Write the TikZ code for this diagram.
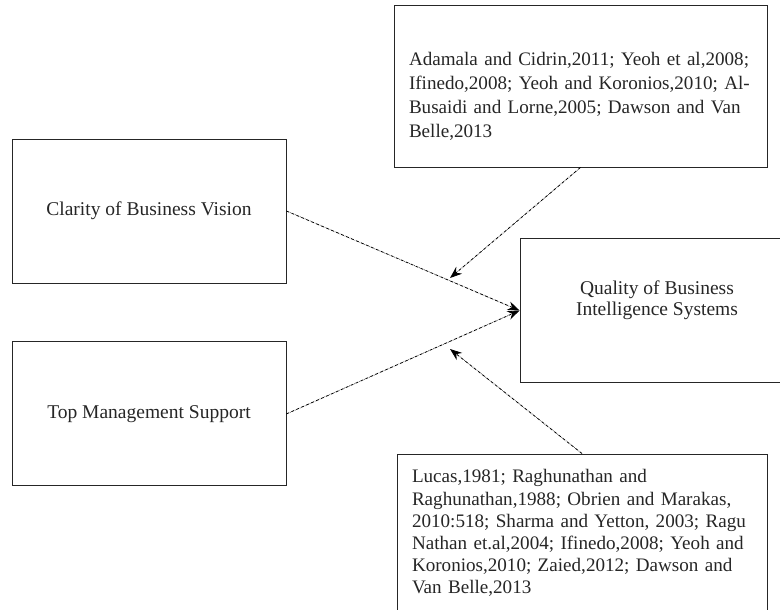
\documentclass[tikz,border=0pt]{standalone}
\usepackage{fontspec}
\setmainfont{Liberation Serif}
\usetikzlibrary{arrows.meta, positioning}

\begin{document}
\begin{tikzpicture}[
    x=1pt, y=-1pt,
    box/.style={rectangle, draw=black!85, line width=0.9pt, text=black!85, font=\fontsize{19.5}{24}\selectfont},
    factor/.style={box, minimum width=274pt, minimum height=144pt, align=center},
    litbox/.style={box, align=left},
    arrow/.style={densely dashdotted, line width=0.8pt, -{Stealth[length=12pt,width=9pt]}}
  ]
  \useasboundingbox (0,0) rectangle (780,610);

  % Factors -- left column
  \node[factor] (vision) at (149,211) {Clarity of Business Vision};
  \node[factor, below=58pt of vision] (support) {Top Management Support};

  % Outcome
  \node[factor, font=\fontsize{19.5}{21}\selectfont] (quality) at (657,310.5) {Quality of Business\\Intelligence Systems\rule[-24pt]{0pt}{0pt}};

  % Literature boxes
  \node[litbox, text width=343pt, inner xsep=15pt, minimum height=162pt, font=\fontsize{19.1}{24}\selectfont] (toplit) at (580.5,86) {\rule{0pt}{33pt}Adamala and Cidrin,2011; Yeoh et al,2008;\\Ifinedo,2008; Yeoh and Koronios,2010; Al-\\Busaidi and Lorne,2005; Dawson and Van\\Belle,2013};
  \node[litbox, text width=340pt, inner xsep=15pt, minimum height=158pt, font=\fontsize{19.1}{22.1}\selectfont] (botlit) at (582,533) {Lucas,1981; Raghunathan and\\Raghunathan,1988; Obrien and Marakas,\\2010:518; Sharma and Yetton, 2003; Ragu\\Nathan et.al,2004; Ifinedo,2008; Yeoh and\\Koronios,2010; Zaied,2012; Dawson and\\Van Belle,2013};

  \coordinate (toptip) at (450,278);
  \coordinate (bottip) at (450,349);

  \draw[arrow] (vision.east) -- (quality.west);
  \draw[arrow] (support.east) -- (quality.west);
  \draw[arrow] (toplit.south) -- (toptip);
  \draw[arrow] (botlit.north) -- (bottip);
\end{tikzpicture}
\end{document}
